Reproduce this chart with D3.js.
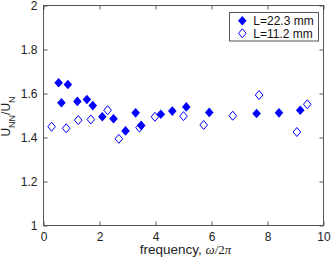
<!DOCTYPE html>
<html>
<head>
<meta charset="utf-8">
<script src="https://cdn.jsdelivr.net/npm/d3@7"></script>
<style>
  body { margin: 0; background: #fff; }
  svg { display: block; font-family: "Liberation Sans", Arial, Helvetica, sans-serif; }
</style>
</head>
<body>
<script>
'use strict';

// L=22.3 mm (filled diamonds)
const filledFreq = [0.54, 0.64, 0.87, 1.21, 1.55, 1.76, 2.10, 2.50, 2.93, 3.29, 3.49, 4.19, 4.60, 5.10, 5.92, 7.61, 8.41, 9.17];
const filledRatio = [1.649, 1.558, 1.641, 1.564, 1.573, 1.545, 1.494, 1.485, 1.430, 1.512, 1.455, 1.506, 1.520, 1.539, 1.514, 1.509, 1.512, 1.524];

// L=11.2 mm (open diamonds)
const openFreq = [0.29, 0.81, 1.24, 1.69, 2.29, 2.69, 3.43, 3.98, 5.00, 5.72, 6.76, 7.70, 9.05, 9.42];
const openRatio = [1.449, 1.442, 1.479, 1.482, 1.524, 1.394, 1.445, 1.494, 1.497, 1.457, 1.499, 1.593, 1.425, 1.551];

const seriesNames = ["L=22.3 mm", "L=11.2 mm"];

const xTickValues = [0, 2, 4, 6, 8, 10];
const xTickLabels = ["0", "2", "4", "6", "8", "10"];
const yTickValues = [1, 1.2, 1.4, 1.6, 1.8, 2];
const yTickLabels = ["1", "1.2", "1.4", "1.6", "1.8", "2"];

(function() {
  let width = 332, height = 259;
  let left = 43.5, right = 323.5, top = 5.5, bottom = 225.5;
  let axisColor = "#555";
  let blue = "#0000ff";

  let svg = d3.select("body")
    .append("svg")
    .attr("width", width)
    .attr("height", height);

  let xScale = d3.scaleLinear().domain([0, 10]).range([left, right]);
  let yScale = d3.scaleLinear().domain([1, 2]).range([bottom, top]);

  // diamond path, half width w, half height h
  function diamond(w, h) {
    return "M0," + (-h) + "L" + w + ",0L0," + h + "L" + (-w) + ",0Z";
  }

  // axes box
  svg.append("rect")
    .attr("x", left).attr("y", top)
    .attr("width", right - left).attr("height", bottom - top)
    .attr("fill", "none")
    .attr("stroke", axisColor)
    .attr("stroke-width", 1);

  function styleAxis(g) {
    g.select(".domain").remove();
    g.selectAll(".tick line").attr("stroke", axisColor);
    g.selectAll(".tick text")
      .attr("fill", "#222")
      .style("font-size", "12px")
      .style("font-family", "'Liberation Sans', Arial, sans-serif");
  }

  let xLabelMap = (d) => xTickLabels[xTickValues.indexOf(d)];
  let yLabelMap = (d) => yTickLabels[yTickValues.indexOf(d)];

  svg.append("g")
    .attr("transform", "translate(0," + bottom + ")")
    .call(d3.axisBottom(xScale).tickValues(xTickValues).tickFormat(xLabelMap)
      .tickSizeInner(-4).tickSizeOuter(0).tickPadding(6.5))
    .call(styleAxis);

  svg.append("g")
    .attr("transform", "translate(0," + top + ")")
    .call(d3.axisTop(xScale).tickValues(xTickValues).tickFormat("")
      .tickSizeInner(-4).tickSizeOuter(0))
    .call(styleAxis);

  svg.append("g")
    .attr("transform", "translate(" + left + ",0)")
    .call(d3.axisLeft(yScale).tickValues(yTickValues).tickFormat(yLabelMap)
      .tickSizeInner(-4).tickSizeOuter(0).tickPadding(6))
    .call(styleAxis);

  svg.append("g")
    .attr("transform", "translate(" + right + ",0)")
    .call(d3.axisRight(yScale).tickValues(yTickValues).tickFormat("")
      .tickSizeInner(-4).tickSizeOuter(0))
    .call(styleAxis);

  // data
  let filledData = filledFreq.map((f, i) => ({x: f, y: filledRatio[i]}));
  let openData = openFreq.map((f, i) => ({x: f, y: openRatio[i]}));

  svg.selectAll(".filled")
    .data(filledData)
    .enter()
    .append("path")
      .attr("class", "filled")
      .attr("transform", (d) => "translate(" + xScale(d.x) + "," + yScale(d.y) + ")")
      .attr("d", diamond(4.3, 4.8))
      .attr("fill", blue);

  svg.selectAll(".open")
    .data(openData)
    .enter()
    .append("path")
      .attr("class", "open")
      .attr("transform", (d) => "translate(" + xScale(d.x) + "," + yScale(d.y) + ")")
      .attr("d", diamond(3.8, 4.5))
      .attr("fill", "none")
      .attr("stroke", blue)
      .attr("stroke-width", 1);

  // legend
  let legend = svg.append("g");
  legend.append("rect")
    .attr("x", 229.5).attr("y", 12.5)
    .attr("width", 89).attr("height", 28.5)
    .attr("fill", "#fff")
    .attr("stroke", axisColor);

  legend.append("path")
    .attr("transform", "translate(242.3,20.7)")
    .attr("d", diamond(4.3, 4.8))
    .attr("fill", blue);
  legend.append("path")
    .attr("transform", "translate(242.3,33.3)")
    .attr("d", diamond(3.8, 4.5))
    .attr("fill", "none")
    .attr("stroke", blue);

  legend.selectAll(".legtext")
    .data(seriesNames)
    .enter()
    .append("text")
      .attr("x", 253.3)
      .attr("y", (d, i) => 24.7 + i * 12.8)
      .style("font-size", "12px")
      .attr("fill", "#111")
      .text((d) => d);

  // x label
  let xLabel = svg.append("text")
    .attr("x", (left + right) / 2 + 2)
    .attr("y", 254)
    .attr("text-anchor", "middle")
    .attr("fill", "#222")
    .style("font-size", "13.5px");
  xLabel.append("tspan").text("frequency, ");
  xLabel.append("tspan")
    .style("font-family", "'Liberation Serif', 'DejaVu Serif', serif")
    .style("font-style", "italic")
    .style("font-size", "13px")
    .text("\u03c9");
  xLabel.append("tspan")
    .style("font-family", "'Liberation Serif', 'DejaVu Serif', serif")
    .style("font-size", "13px")
    .text("/2");
  xLabel.append("tspan")
    .style("font-family", "'Liberation Serif', 'DejaVu Serif', serif")
    .style("font-style", "italic")
    .style("font-size", "13px")
    .text("\u03c0");

  // y label
  let yLabel = svg.append("text")
    .attr("transform", "translate(10,116.5)rotate(-90)")
    .attr("text-anchor", "middle")
    .attr("fill", "#222")
    .style("font-size", "12px");
  yLabel.append("tspan").text("U");
  yLabel.append("tspan").attr("dy", 5).style("font-size", "9px").text("NN");
  yLabel.append("tspan").attr("dy", -5).text("/U");
  yLabel.append("tspan").attr("dy", 5).style("font-size", "9px").text("N");
})();
</script>
</body>
</html>
